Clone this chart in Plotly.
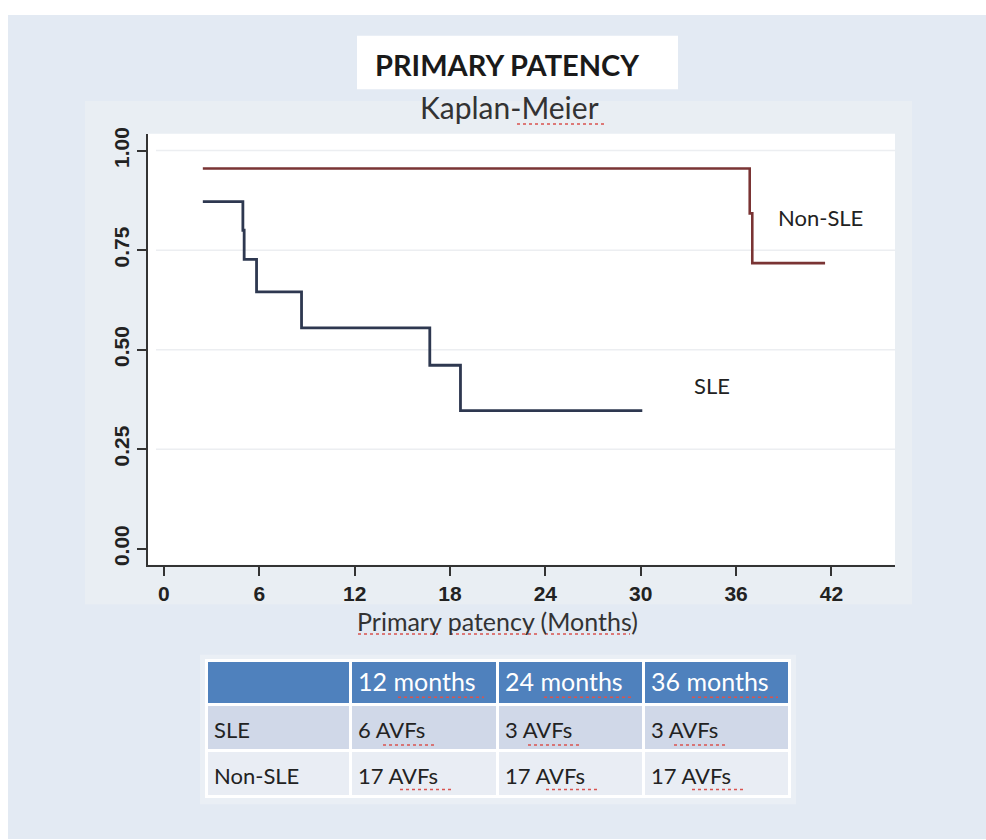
import plotly.graph_objects as go

W, H = 986, 840

# ---- data ----
sle_time = [2.45, 4.97, 5.05, 5.83, 8.66, 16.73, 18.66, 30.1]
sle_surv = [0.872, 0.80, 0.727, 0.645, 0.555, 0.461, 0.347, 0.347]
non_time = [2.45, 36.86, 37.02, 41.6]
non_surv = [0.955, 0.8425, 0.7175, 0.7175]

x_ticks = [0, 6, 12, 18, 24, 30, 36, 42]
y_ticks = [0, 0.25, 0.5, 0.75, 1.0]
y_ticktext = ["0.00", "0.25", "0.50", "0.75", "1.00"]

table_header = ["", "12 months", "24 months", "36 months"]
table_groups = ["SLE", "Non-SLE"]
table_12 = ["6 AVFs", "17 AVFs"]
table_24 = ["3 AVFs", "17 AVFs"]
table_36 = ["3 AVFs", "17 AVFs"]


def px(x):
    return x / W


def py(y):
    return 1 - y / H


TXT = "Lato"
NUM = "Liberation Sans"
COLW = [144, 147, 146, 146]

fig = go.Figure()
fig.add_trace(go.Scatter(x=non_time, y=non_surv, mode="lines", line_shape="hv",
                         line=dict(color="#7a3434", width=2.6), showlegend=False, hoverinfo="skip"))
fig.add_trace(go.Scatter(x=sle_time, y=sle_surv, mode="lines", line_shape="hv",
                         line=dict(color="#2e3850", width=2.8), showlegend=False, hoverinfo="skip"))

# table cells (fills)
n_rows = len(table_groups)
fig.add_trace(go.Table(
    domain=dict(x=[px(206), px(790)], y=[py(800), py(660)]),
    columnwidth=COLW,
    header=dict(values=[""] * len(table_header), fill_color="#4f81bd", height=44,
                line=dict(color="white", width=3)),
    cells=dict(values=[[""] * n_rows for _ in table_header], height=46,
               fill_color=[["#d0d8e8", "#e9edf4"]] * len(table_header),
               line=dict(color="white", width=3)),
))
# table text (same cells, text layer)
fig.add_trace(go.Table(
    domain=dict(x=[px(206), px(790)], y=[py(810), py(664)]),
    columnwidth=COLW,
    header=dict(values=table_header, fill_color="rgba(0,0,0,0)", align="left", height=49,
                line=dict(color="rgba(0,0,0,0)", width=0),
                font=dict(family=TXT, size=25, color="white")),
    cells=dict(values=[table_groups, table_12, table_24, table_36], align="left", height=46,
               fill_color="rgba(0,0,0,0)",
               line=dict(color="rgba(0,0,0,0)", width=0),
               font=dict(family=TXT, size=22, color="#222222")),
))


def ann(text, x, y, size, color="#222222", xref="paper", yref="paper"):
    return dict(text=text, x=x, y=y, xref=xref, yref=yref, showarrow=False,
                xanchor="center", yanchor="middle",
                font=dict(family=TXT, size=size, color=color))


def squiggle(x0, x1, y):
    return dict(type="line", xref="paper", yref="paper", x0=px(x0), x1=px(x1), y0=py(y), y1=py(y),
                line=dict(color="#d9534f", width=1.5, dash="dot"), layer="above")


def gridline(v):
    return dict(type="line", xref="paper", yref="y", x0=px(156), x1=px(895), y0=v, y1=v,
                line=dict(color="#eceef1", width=1.5), layer="below")


squiggles = [
    (517, 607, 118),
    (358, 438, 633), (450, 537, 633), (545, 630, 633),
    (398, 484, 697), (544, 634, 697), (692, 778, 697),
    (383, 435, 745), (528, 581, 745), (674, 727, 745),
    (400, 451, 790), (546, 597, 790), (692, 743, 790),
]

fig.update_layout(
    width=W, height=H,
    margin=dict(l=0, r=0, t=0, b=0),
    paper_bgcolor="white", plot_bgcolor="white",
    xaxis=dict(domain=[px(148), px(895)], range=[-1.0, 46.0], tickvals=x_ticks,
               showgrid=False, zeroline=False, showline=True, linecolor="#333333", linewidth=2,
               ticks="outside", ticklen=9, tickwidth=1.5, tickcolor="#333333",
               tickfont=dict(family=NUM, size=21, color="#222222", weight="bold")),
    yaxis=dict(domain=[py(563), py(128)], range=[-0.0398, 1.0423], tickvals=y_ticks, ticktext=y_ticktext,
               tickangle=-90, showgrid=False, zeroline=False,
               showline=True, linecolor="#333333", linewidth=2,
               ticks="outside", ticklen=9, tickwidth=1.5, tickcolor="#333333",
               tickfont=dict(family=NUM, size=21, color="#222222", weight="bold")),
    shapes=[
        dict(type="rect", xref="paper", yref="paper", x0=px(8), x1=1.0, y0=0, y1=py(8),
             fillcolor="#e3eaf3", line_width=0, layer="below"),
        dict(type="rect", xref="paper", yref="paper", x0=px(85), x1=px(912), y0=py(603), y1=py(95),
             fillcolor="#e9eef3", line_width=0, layer="below"),
        dict(type="rect", xref="paper", yref="paper", x0=px(148), x1=px(895), y0=py(563), y1=py(128),
             fillcolor="white", line_width=0, layer="below"),
        dict(type="rect", xref="paper", yref="paper", x0=px(200), x1=px(796), y0=py(805), y1=py(654),
             fillcolor="#eaeff5", line_width=0, layer="below"),
        dict(type="rect", xref="paper", yref="paper", x0=px(357), x1=px(678), y0=py(83), y1=py(29),
             fillcolor="white", line_width=0, layer="below"),
    ] + [gridline(v) for v in y_ticks[1:]] + [squiggle(*s) for s in squiggles],
    annotations=[
        ann("<b>PRIMARY PATENCY</b>", px(507), py(58), 29, "#1a1a1a"),
        ann("Kaplan-Meier", px(509), py(101), 30, "#333333"),
        ann("Primary patency (Months)", px(497), py(620), 25, "#333333"),
        ann("Non-SLE", 41.3, 0.8325, 22, xref="x", yref="y"),
        ann("SLE", 34.5, 0.41, 22, xref="x", yref="y"),
    ],
)

fig.write_html("out.html", config={"displayModeBar": False},
               post_script="document.body.style.margin='0';")
